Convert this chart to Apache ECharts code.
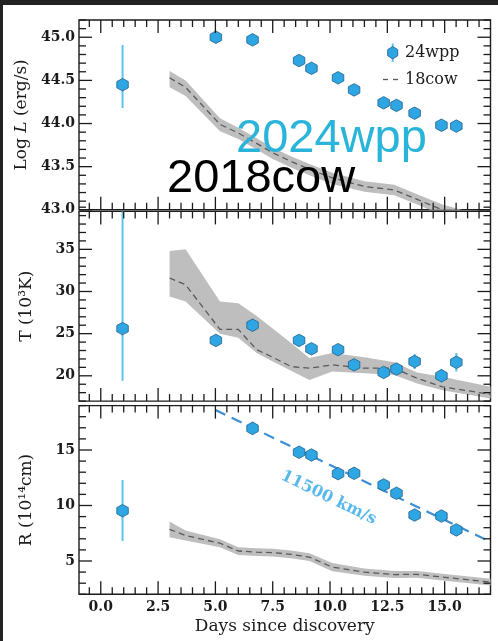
<!DOCTYPE html>
<html>
<head>
<meta charset="utf-8">
<script src="https://cdn.jsdelivr.net/npm/echarts@6/dist/echarts.min.js"></script>
<style>
  html, body { margin: 0; padding: 0; background: #fff; }
  #chart { position: absolute; left: 0; top: 0; width: 498px; height: 641px; }
  .edge { position: absolute; background: #222; z-index: 5; }
</style>
</head>
<body>
<div id="chart"></div>
<div class="edge" style="left:0;top:0;width:498px;height:5px"></div>
<div class="edge" style="left:0;top:0;width:3px;height:641px"></div>
<script>
// ---- AT 2024wpp: blackbody fits ----
const days24   = [0.95, 5.02, 6.62, 8.65, 9.19, 10.35, 11.05, 12.34, 12.90, 13.69, 14.86, 15.51];
const logL24   = [44.45, 45.00, 44.97, 44.73, 44.64, 44.53, 44.39, 44.24, 44.21, 44.12, 43.98, 43.97];
const logL24Lo = [44.18, 44.99, 44.96, 44.72, 44.63, 44.52, 44.38, 44.23, 44.20, 44.11, 43.97, 43.96];
const logL24Hi = [44.91, 45.01, 44.98, 44.74, 44.65, 44.54, 44.40, 44.25, 44.22, 44.13, 43.99, 43.98];
const temp24   = [25.6, 24.2, 26.0, 24.2, 23.2, 23.1, 21.3, 20.4, 20.8, 21.7, 20.0, 21.6];
const temp24Lo = [19.4, 23.8, 25.3, 23.6, 22.8, 22.6, 20.9, 20.0, 20.3, 20.8, 19.2, 20.5];
const temp24Hi = [42.0, 24.6, 26.7, 24.8, 23.6, 23.6, 21.7, 20.8, 21.3, 22.6, 20.8, 22.7];
const rad24    = [9.53, null, 16.95, 14.80, 14.55, 12.87, 12.90, 11.85, 11.10, 9.14, 9.05, 7.80];
const rad24Lo  = [6.80, null, 16.35, 14.30, 14.15, 12.45, 12.50, 11.45, 10.70, 8.75, 8.55, 7.40];
const rad24Hi  = [12.30, null, 17.55, 15.30, 14.95, 13.30, 13.30, 12.25, 11.50, 9.55, 9.55, 8.20];

// ---- AT 2018cow comparison (median and spread) ----
const cowDays  = [3.0, 3.7, 5.2, 6.0, 6.8, 7.5, 8.3, 9.1, 10.1, 11.5, 12.8, 13.8, 14.9, 17.0];
const cowLogL  = [44.53, 44.42, 43.99, 43.89, 43.77, 43.66, 43.56, 43.47, 43.37, 43.27, 43.23, 43.12, 43.00, 42.85];
const cowLogLLo= [44.42, 44.32, 43.91, 43.82, 43.70, 43.59, 43.49, 43.40, 43.30, 43.21, 43.17, 43.06, 42.94, 42.79];
const cowLogLHi= [44.61, 44.50, 44.06, 43.95, 43.83, 43.72, 43.62, 43.53, 43.43, 43.33, 43.29, 43.18, 43.06, 42.91];
const cowTemp  = [31.6, 30.8, 25.5, 25.5, 23.1, 22.2, 21.1, 20.9, 21.3, 20.9, 20.9, 19.7, 18.7, 17.8];
const cowTempLo= [29.4, 28.8, 25.0, 24.5, 22.7, 21.7, 20.6, 19.5, 20.5, 20.3, 20.1, 19.1, 18.3, 17.3];
const cowTempHi= [34.8, 35.0, 28.8, 28.6, 27.1, 25.6, 23.9, 22.1, 22.7, 22.2, 21.6, 20.4, 19.9, 18.7];
const cowRad   = [7.85, 7.30, 6.60, 5.90, 5.80, 5.75, 5.60, 5.35, 4.45, 4.00, 3.78, 3.80, 3.55, 3.10];
const cowRadLo = [7.15, 6.85, 6.25, 5.55, 5.45, 5.40, 5.25, 5.00, 4.07, 3.68, 3.47, 3.50, 3.25, 2.80];
const cowRadHi = [8.55, 7.75, 6.95, 6.25, 6.15, 6.10, 5.95, 5.70, 4.83, 4.32, 4.09, 4.10, 3.85, 3.40];

// ---- constant-velocity expansion (11500 km/s) ----
const fitDays  = [5.0, 17.0];
const fitRad   = [18.6, 6.72];
const fitLabel = '11500 km/s';
const fitLabelAt = [9.94, 10.7];

// ---- axes ----
const dayRange   = [-0.95, 17];
const dayTicks   = [0, 2.5, 5, 7.5, 10, 12.5, 15];
const logLTicks  = [43.0, 43.5, 44.0, 44.5, 45.0];
const tempTicks  = [20, 25, 30, 35];
const radTicks   = [5, 10, 15];

const SERIF = 'DejaVu Serif';
const INK = '#1b1b1b';
const BLUE = '#2ea6e3';
const BAR_BLUE = '#5cc2f0';
const BAND = '#bebebe';
const HEX = 'path://M0,-10 L8.66,-5 L8.66,5 L0,10 L-8.66,5 L-8.66,-5 Z';
const MAJOR_LEN = 13, MINOR_LEN = 7;

function minorTicks(lo, hi, step, majors) {
  const out = [];
  const n = Math.round((hi - lo) / step);
  for (let i = 0; i <= n; i++) {
    const v = +(lo + i * step).toFixed(4);
    if (!majors.some(m => Math.abs(m - v) < 1e-6)) out.push(v);
  }
  return out;
}

const panels = [
  { top: 20,    height: 189.8, min: 43.0, max: 45.2, major: logLTicks, step: 0.1, fmt: v => v.toFixed(1),
    name: '{n|Log }{i|L}{n| (erg/s)}' },
  { top: 211.4, height: 189.7, min: 17,   max: 39.5, major: tempTicks, step: 1, fmt: v => String(v),
    name: '{n|T (10³K)}' },
  { top: 405.6, height: 188.7, min: 2,    max: 19,   major: radTicks,  step: 1, fmt: v => String(v),
    name: '{n|R (10¹⁴cm)}' }
];

const labelStyle = { fontFamily: SERIF, fontSize: 14, fontWeight: 'bold', color: INK };
const nameRich = {
  n: { fontFamily: SERIF, fontSize: 17, color: INK },
  i: { fontFamily: SERIF, fontSize: 17, color: INK, fontStyle: 'italic' }
};

const grid = [], xAxis = [], yAxis = [], series = [];
const dayMinor = minorTicks(-0.5, 16.5, 0.5, dayTicks);

// inward tick marks on all four sides of a panel, placed through the axis scales
function tickSeries(g, p) {
  const items = [];
  dayTicks.forEach(v => items.push([v, p.min, 0, 1]));
  dayMinor.forEach(v => items.push([v, p.min, 0, 0]));
  p.major.forEach(v => items.push([dayRange[0], v, 1, 1]));
  minorTicks(p.min, p.max, p.step, p.major).forEach(v => items.push([dayRange[0], v, 1, 0]));
  return {
    type: 'custom', xAxisIndex: g, yAxisIndex: g, data: items, clip: false, silent: true, z: 6,
    encode: { x: 0, y: 1 },
    renderItem: (params, api) => {
      const isY = api.value(2) === 1;
      const len = api.value(3) === 1 ? MAJOR_LEN : MINOR_LEN;
      const style = { stroke: INK, lineWidth: 1.3 };
      let a, b, shapes;
      if (!isY) {
        const v = api.value(0);
        a = api.coord([v, p.min]);
        b = api.coord([v, p.max]);
        shapes = [
          { x1: a[0], y1: a[1], x2: a[0], y2: a[1] - len },
          { x1: b[0], y1: b[1], x2: b[0], y2: b[1] + len }
        ];
      } else {
        const v = api.value(1);
        a = api.coord([dayRange[0], v]);
        b = api.coord([dayRange[1], v]);
        shapes = [
          { x1: a[0], y1: a[1], x2: a[0] + len, y2: a[1] },
          { x1: b[0], y1: b[1], x2: b[0] - len, y2: b[1] }
        ];
      }
      return { type: 'group', children: shapes.map(s => ({ type: 'line', shape: s, style })) };
    }
  };
}

panels.forEach((p, g) => {
  const isLast = g === panels.length - 1;
  grid.push({ left: 79, width: 411.5, top: p.top, height: p.height,
              show: true, borderColor: INK, borderWidth: 1.4, backgroundColor: 'transparent' });
  xAxis.push({
    gridIndex: g, type: 'value', min: dayRange[0], max: dayRange[1], position: 'bottom',
    axisLine: { show: false, onZero: false },
    axisTick: { show: false },
    axisLabel: { show: isLast, customValues: dayTicks, formatter: v => v.toFixed(1), margin: 6, ...labelStyle },
    splitLine: { show: false },
    name: isLast ? 'Days since discovery' : '',
    nameLocation: 'middle', nameGap: 24,
    nameTextStyle: { fontFamily: SERIF, fontSize: 17, color: INK }
  });
  yAxis.push({
    gridIndex: g, type: 'value', min: p.min, max: p.max, position: 'left',
    axisLine: { show: false, onZero: false },
    axisTick: { show: false },
    axisLabel: { show: true, customValues: p.major, formatter: p.fmt, margin: 4, ...labelStyle },
    splitLine: { show: false },
    name: p.name, nameLocation: 'middle', nameGap: 44, nameRotate: 90,
    nameTextStyle: { rich: nameRich }
  });
});

const zip = (xs, ys) => xs.map((x, i) => [x, ys[i]]);
const cowSets = [
  [cowLogL, cowLogLLo, cowLogLHi],
  [cowTemp, cowTempLo, cowTempHi],
  [cowRad,  cowRadLo,  cowRadHi]
];
const wppSets = [
  [logL24, logL24Lo, logL24Hi],
  [temp24, temp24Lo, temp24Hi],
  [rad24,  rad24Lo,  rad24Hi]
];

cowSets.forEach(([mid, lo, hi], g) => {
  const ax = { xAxisIndex: g, yAxisIndex: g };
  // shaded spread: one polygon through the upper edge and back along the lower edge
  series.push({
    ...ax, type: 'custom', silent: true, clip: true, z: 1,
    data: cowDays.map((d, i) => [d, lo[i], hi[i]]),
    encode: { x: 0, y: [1, 2] },
    renderItem: (params, api) => {
      if (params.dataIndex !== 0) return null;
      const n = params.dataInsideLength;
      const upper = [], lower = [];
      for (let i = 0; i < n; i++) {
        upper.push(api.coord([api.value(0, i), api.value(2, i)]));
        lower.push(api.coord([api.value(0, i), api.value(1, i)]));
      }
      return { type: 'polygon', shape: { points: upper.concat(lower.reverse()) },
               style: { fill: BAND } };
    }
  });
  series.push({
    ...ax, type: 'line', name: '18cow', symbol: 'none', data: zip(cowDays, mid),
    lineStyle: { color: '#5a5a5a', width: 1.3, type: [6, 4] }, z: 2
  });
});

series.push({
  xAxisIndex: 2, yAxisIndex: 2, type: 'line', symbol: 'none', data: zip(fitDays, fitRad),
  lineStyle: { color: '#3d8fd1', width: 2.2, type: [11, 7] }, z: 3
});

series.push({
  xAxisIndex: 2, yAxisIndex: 2, type: 'scatter', symbolSize: 0, data: [fitLabelAt],
  label: { show: true, position: 'inside', formatter: fitLabel, rotate: -26,
           fontFamily: SERIF, fontWeight: 'bold', fontSize: 16, color: '#2ea6e6' },
  z: 3
});

wppSets.forEach(([val, lo, hi], g) => {
  const ax = { xAxisIndex: g, yAxisIndex: g };
  const bars = [], pts = [];
  days24.forEach((d, i) => {
    if (val[i] == null) return;
    bars.push([d, lo[i], hi[i]]);
    pts.push([d, val[i]]);
  });
  series.push({
    ...ax, type: 'custom', data: bars, clip: true, z: 4,
    encode: { x: 0, y: [1, 2] },
    renderItem: (params, api) => {
      const a = api.coord([api.value(0), api.value(1)]);
      const b = api.coord([api.value(0), api.value(2)]);
      return { type: 'line', shape: { x1: a[0], y1: a[1], x2: b[0], y2: b[1] },
               style: { stroke: BAR_BLUE, lineWidth: 2 } };
    }
  });
  series.push({
    ...ax, type: 'scatter', name: '24wpp', data: pts, symbol: HEX, symbolSize: [11.5, 12.5],
    itemStyle: { color: BLUE, borderColor: '#205f88', borderWidth: 0.8, opacity: 1 }, z: 5
  });
});

panels.forEach((p, g) => series.push(tickSeries(g, p)));

// legend and overlay captions
const hexPts = [];
for (let k = 0; k < 6; k++) {
  const a = Math.PI / 2 + k * Math.PI / 3;
  hexPts.push([392.7 + 5.8 * Math.cos(a), 52.7 - 6.2 * Math.sin(a)]);
}
const graphic = [
  { type: 'line', shape: { x1: 392.7, y1: 43.5, x2: 392.7, y2: 61.8 }, style: { stroke: BAR_BLUE, lineWidth: 2 }, z: 10 },
  { type: 'polygon', shape: { points: hexPts }, style: { fill: BLUE, stroke: '#205f88', lineWidth: 0.8 }, z: 11 },
  { type: 'text', x: 405, y: 53, style: { text: '24wpp', fill: INK, font: '16px "DejaVu Serif"', verticalAlign: 'middle' }, z: 11 },
  { type: 'line', shape: { x1: 383, y1: 79.5, x2: 403, y2: 79.5 }, style: { stroke: '#5a5a5a', lineWidth: 1.3, lineDash: [5, 5] }, z: 10 },
  { type: 'text', x: 405, y: 79.5, style: { text: '18cow', fill: INK, font: '16px "DejaVu Serif"', verticalAlign: 'middle' }, z: 11 },
  { type: 'text', x: 236, y: 139, style: { text: '2024wpp', fill: '#2ab4d9', font: '47px "Liberation Sans"', verticalAlign: 'middle' }, z: 20 },
  { type: 'text', x: 167, y: 179, style: { text: '2018cow', fill: '#000', font: '47px "Liberation Sans"', verticalAlign: 'middle' }, z: 20 }
];

const chart = echarts.init(document.getElementById('chart'), null, { renderer: 'canvas' });
chart.setOption({
  backgroundColor: '#fff',
  animation: false,
  grid, xAxis, yAxis, series, graphic
});
</script>
</body>
</html>
